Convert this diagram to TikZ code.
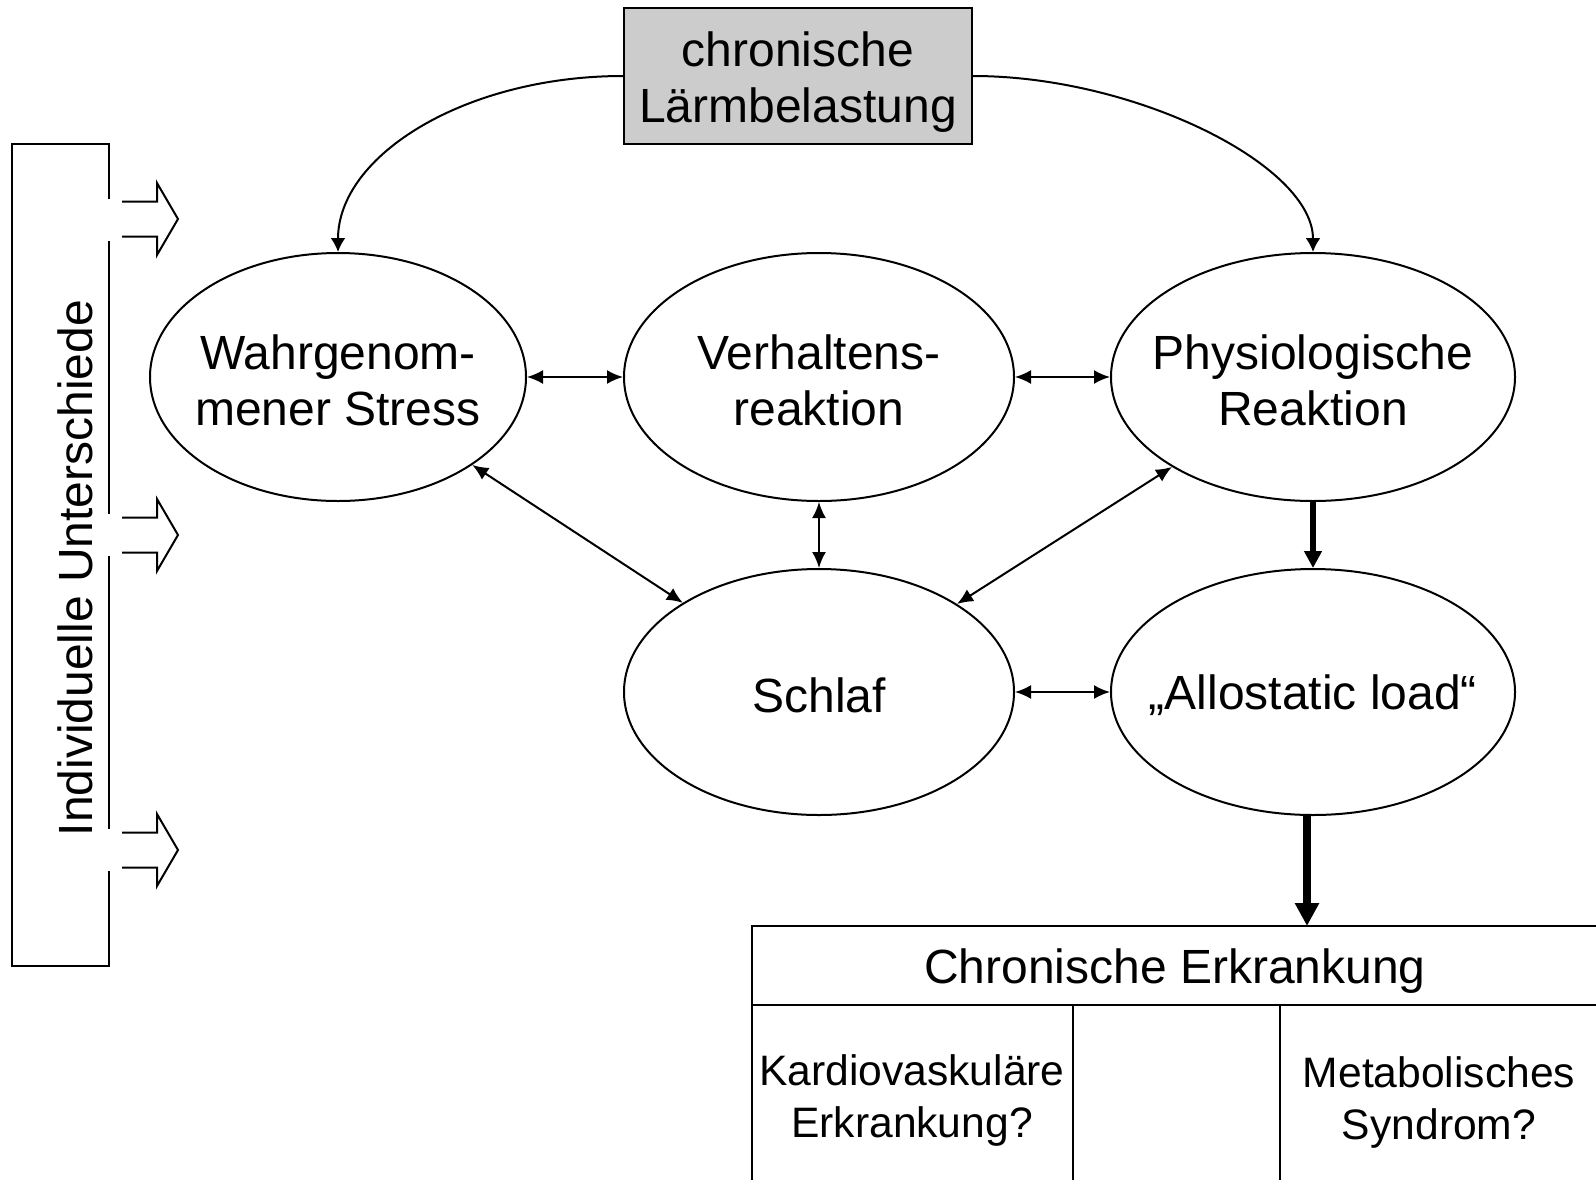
\documentclass[tikz,border=0pt]{standalone}
\usepackage{fontspec}
\setmainfont{Liberation Sans}
\usetikzlibrary{shapes.geometric,arrows.meta,calc}
\definecolor{boxgray}{RGB}{204,204,204}
\begin{document}
\begin{tikzpicture}[x=0.5pt,y=-0.5pt,
  line width=1pt,
  ell/.style={draw, ellipse, line width=1pt, inner sep=0pt},
  txt/.style={align=center, font=\fontsize{24}{28}\selectfont, inner sep=0pt},
  small/.style={align=center, font=\fontsize{21.3}{26}\selectfont, inner sep=0pt},
  dbl/.style={{Latex[length=8pt,width=7pt]}-{Latex[length=8pt,width=7pt]}, line width=1pt},
  one/.style={-{Latex[length=7pt,width=7.5pt]}, line width=1pt},
  thickA/.style={-{Triangle[length=8.5pt,width=8.5pt]}, line width=3pt},
  thickB/.style={-{Triangle[length=11.5pt,width=11.5pt]}, line width=3.8pt},
  blockarrow/.style={line width=1pt, line join=miter}
]
\useasboundingbox (0,0) rectangle (1596,1179);

% top box
\node[draw, fill=boxgray, minimum width=174pt, minimum height=68pt, inner sep=0pt] (noise) at (798,76) {};
\node[txt, yshift=-3pt] (noiset) at (noise) {chronische\\Lärmbelastung};

% ellipses
\node[ell, minimum width=188pt, minimum height=124pt] (e1) at (338,377) {};
\node[ell, minimum width=195pt, minimum height=124pt] (e2) at (819,377) {};
\node[ell, minimum width=202pt, minimum height=124pt] (e3) at (1313,377) {};
\node[ell, minimum width=195pt, minimum height=123pt] (e4) at (819,692) {};
\node[ell, minimum width=202pt, minimum height=123pt] (e5) at (1313,692) {};

\node[txt, yshift=-1.5pt] (t1) at (e1) {Wahrgenom-\\mener Stress};
\node[txt, yshift=-1.5pt] (t2) at (e2) {Verhaltens-\\reaktion};
\node[txt, yshift=-1.5pt] (t3) at (e3) {Physiologische\\Reaktion};
\node[txt, yshift=-1.5pt] (t4) at (e4) {Schlaf};
\node[txt, yshift=-1.5pt] (t5) at (e5) {„Allostatic load“};

% curved arrows
\draw[one] (noise.west) .. controls (466,76) and (338,155) .. (e1.north);
\draw[one] (noise.east) .. controls (1135,76) and (1313,165) .. (e3.north);

% connectors
\draw[dbl] (e1) -- (e2);
\draw[dbl] (e2) -- (e3);
\draw[dbl] (e2) -- (e4);
\draw[dbl] (e1) -- (e4);
\draw[dbl] (e3) -- (e4);
\draw[dbl] (e4) -- (e5);
\draw[thickA] (e3) -- (e5);

% table
\node[txt] (hdr) at (1175,971) {Chronische Erkrankung};
\node[small] (c1) at (912,1100) {Kardiovaskuläre\\Erkrankung?};
\node[small] (c3) at (1439,1102) {Metabolisches\\Syndrom?};
\coordinate (tabtop) at (1307,926);
\draw (752,1190) |- (1605,926);
\draw (752,1005) -- (1605,1005);
\draw (1073,1005) -- (1073,1190);
\draw (1280,1005) -- (1280,1190);
\draw[thickB] (e5.south -| tabtop) -- (tabtop);

% left bracket
\draw (109,199) -- (109,144) -- (12,144) -- (12,966) -- (109,966) -- (109,871);
\draw (109,241) -- (109,514);
\draw (109,556) -- (109,829);
\node[txt, rotate=90] (indiv) at (75,568) {Individuelle Unterschiede};
\foreach \c in {219,535,850} {
  \draw[blockarrow] (122,\c-17.5) -- (157,\c-17.5) -- (157,\c-36) -- (178,\c) -- (157,\c+36) -- (157,\c+17.5) -- (122,\c+17.5);
}
\end{tikzpicture}
\end{document}
